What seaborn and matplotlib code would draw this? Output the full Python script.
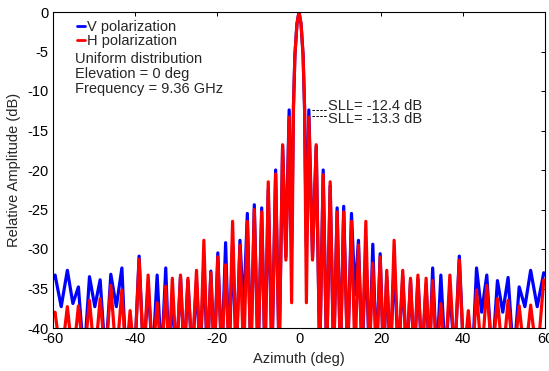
import numpy as np
import pandas as pd
import matplotlib
matplotlib.use("Agg")
import matplotlib.pyplot as plt
import seaborn as sns

# ---- data (azimuth deg, relative amplitude dB) ----
# main lobe (shared by both polarizations)
main_az = [-1.35, -1.0, -0.5, 0.0, 0.5, 1.0, 1.35]
main_db = [-12.0, -5.5, -1.5, 0.0, -1.5, -5.5, -12.0]

# right-hand side lobes
r_peak_az = [2.4, 4.2, 5.9, 7.6, 9.3, 10.9, 12.8, 14.5, 16.3, 18.0, 19.8, 21.4, 23.2, 25.3,
             27.2, 29.0, 31.0, 32.6, 34.6, 36.8, 39.1, 41.3, 43.3, 45.8, 48.4, 51.0, 53.7,
             56.5, 59.7]
r_peak_v = [-12.4, -17.0, -20.0, -22.0, -24.8, -24.6, -25.5, -28.9, -29.5, -29.4, -30.6,
            -33.5, -31.6, -33.5, -34.0, -33.8, -34.5, -32.4, -33.3, -35.0, -30.9, -42.0,
            -32.4, -33.3, -34.0, -33.6, -34.8, -32.7, -33.0]
r_peak_h = [-13.3, -16.8, -20.6, -21.5, -25.3, -25.3, -26.5, -29.5, -26.5, -31.8, -31.0,
            -32.7, -28.9, -32.7, -33.7, -33.3, -33.7, -34.0, -36.9, -33.3, -31.4, -37.8,
            -35.2, -34.6, -36.3, -36.5, -37.2, -37.1, -33.9]
r_null_az = [1.8, 3.3, 5.05, 6.75, 8.45, 10.1, 11.85, 13.65, 15.4, 17.15, 18.9, 20.6, 22.3,
             24.25, 26.25, 28.1, 30.0, 31.8, 33.6, 35.7, 37.95, 40.2, 42.3, 44.55, 47.1,
             49.7, 52.35, 55.1, 58.1]
r_null_v = [-29.7, -31.0, -44.0, -44.0, -44.0, -44.0, -44.0, -35.8, -44.0, -44.0, -44.0,
            -44.0, -44.0, -44.0, -44.0, -44.0, -44.0, -44.0, -44.0, -44.0, -44.0, -44.0,
            -44.0, -38.0, -44.0, -38.0, -44.0, -37.3, -37.3]
r_null_h = [-36.8, -31.4, -44.0, -44.0, -44.0, -44.0, -44.0, -44.0, -44.0, -44.0, -44.0,
            -44.0, -44.0, -44.0, -44.0, -44.0, -44.0, -44.0, -44.0, -44.0, -44.0, -44.0,
            -44.0, -44.0, -44.0, -44.0, -44.0, -44.0, -44.0]

# left-hand side lobes
l_peak_az = [-2.4, -4.0, -5.7, -7.5, -9.1, -10.9, -12.6, -14.4, -16.2, -17.9, -19.8, -21.5,
             -23.2, -25.0, -27.1, -28.9, -30.9, -32.5, -34.6, -36.8, -39.0, -41.2, -43.2,
             -45.9, -48.5, -51.1, -53.8, -56.5, -59.5]
l_peak_v = [-12.4, -16.9, -20.0, -22.5, -24.8, -24.4, -25.5, -28.9, -29.2, -29.2, -30.5,
            -32.8, -31.6, -34.0, -34.0, -33.5, -36.0, -32.4, -33.3, -34.5, -30.9, -42.0,
            -32.4, -33.2, -33.9, -33.5, -34.8, -32.7, -33.3]
l_peak_h = [-13.3, -16.8, -20.5, -21.5, -25.3, -25.0, -26.5, -29.5, -26.5, -32.0, -31.0,
            -33.0, -28.9, -32.7, -33.7, -33.3, -33.7, -34.7, -36.8, -33.3, -31.3, -37.8,
            -35.2, -34.6, -36.3, -36.5, -37.2, -37.3, -38.0]
l_null_az = [-1.8, -3.2, -4.85, -6.6, -8.3, -10.0, -11.75, -13.5, -15.3, -17.05, -18.85,
             -20.65, -22.35, -24.1, -26.05, -28.0, -29.9, -31.7, -33.55, -35.7, -37.9,
             -40.1, -42.2, -44.55, -47.2, -49.8, -52.45, -55.15, -58.0]
l_null_v = [-29.7, -31.0, -44.0, -44.0, -44.0, -44.0, -44.0, -38.0, -44.0, -44.0, -44.0,
            -44.0, -44.0, -44.0, -44.0, -44.0, -44.0, -44.0, -44.0, -44.0, -44.0, -44.0,
            -44.0, -37.3, -44.0, -37.3, -44.0, -36.9, -37.3]
l_null_h = [-36.8, -31.4, -44.0, -44.0, -44.0, -44.0, -44.0, -44.0, -44.0, -44.0, -44.0,
            -44.0, -44.0, -44.0, -44.0, -44.0, -44.0, -44.0, -44.0, -44.0, -44.0, -44.0,
            -44.0, -44.0, -44.0, -44.0, -44.0, -44.0, -44.0]

# pattern edges
edge_az = [-60.0, 60.0]
edge_v = [-33.8, -33.2]
edge_h = [-38.5, -34.2]

series_names = ["V polarization", "H polarization"]
series_colors = ["#0000FF", "#FF0000"]

sll_labels = ["SLL= -12.4 dB", "SLL= -13.3 dB"]
sll_values = [-12.4, -13.3]
info_lines = ["Uniform distribution", "Elevation = 0 deg", "Frequency = 9.36 GHz"]

x_ticks = [-60, -40, -20, 0, 20, 40, 60]
y_ticks = [-40, -35, -30, -25, -20, -15, -10, -5, 0]


def build(peaks_r, nulls_r, peaks_l, nulls_l, edges):
    az = (main_az + r_peak_az + r_null_az + l_peak_az + l_null_az + edge_az)
    db = (main_db + peaks_r + nulls_r + peaks_l + nulls_l + edges)
    return az, db


az_v, db_v = build(r_peak_v, r_null_v, l_peak_v, l_null_v, edge_v)
az_h, db_h = build(r_peak_h, r_null_h, l_peak_h, l_null_h, edge_h)

df = pd.DataFrame({
    "Azimuth": az_v + az_h,
    "dB": db_v + db_h,
    "pol": [series_names[0]] * len(az_v) + [series_names[1]] * len(az_h),
})

sns.set_theme(style="white")
plt.rcParams["font.family"] = ["Liberation Sans", "DejaVu Sans"]
plt.rcParams["axes.unicode_minus"] = False

FS = 10.5
fig = plt.figure(figsize=(5.49, 3.71), dpi=100)
ax = fig.add_axes([53 / 549, 1 - 328 / 371, 492 / 549, 316 / 371])

sns.lineplot(data=df, x="Azimuth", y="dB", hue="pol", hue_order=series_names,
             palette=series_colors, estimator=None, sort=True, linewidth=2.3, ax=ax)
for ln in ax.get_lines():
    ln.set_solid_joinstyle("round")
    ln.set_solid_capstyle("round")

ax.set_xlim(-60, 60)
ax.set_ylim(-40, 0)
ax.set_xticks(x_ticks)
ax.set_yticks(y_ticks)
ax.tick_params(direction="in", top=True, right=True, length=3, width=0.7,
               labelsize=FS, colors="black", pad=3)
for s in ax.spines.values():
    s.set_visible(True)
    s.set_color("black")
    s.set_linewidth(0.8)
ax.set_xlabel("Azimuth (deg)", fontsize=FS, labelpad=4)
ax.set_ylabel("Relative Amplitude (dB)", fontsize=FS, labelpad=5)

leg = ax.legend(loc="upper left", bbox_to_anchor=(0.028, 1.006), frameon=False,
                fontsize=FS, handlelength=0.55, handletextpad=0.15, labelspacing=0.0,
                borderpad=0.2)
for line in leg.get_lines():
    line.set_linewidth(2.0)

for i, t in enumerate(info_lines):
    ax.text(-54.6, -5.9 - 1.9 * i, t, fontsize=FS, va="center", ha="left")

# SLL annotations
ax.plot([3.1, 6.8], [sll_values[0], sll_values[0]], ls=(0, (2.5, 1.5)), color="black", lw=0.7)
ax.plot([3.1, 6.8], [sll_values[1] + 0.1, sll_values[1] + 0.1], ls=(0, (2.5, 1.5)),
        color="black", lw=0.7)
ax.text(7.1, -11.9, sll_labels[0], fontsize=FS, va="center", ha="left")
ax.text(7.1, -13.6, sll_labels[1], fontsize=FS, va="center", ha="left")

fig.savefig("out.png", dpi=100, facecolor="white")
